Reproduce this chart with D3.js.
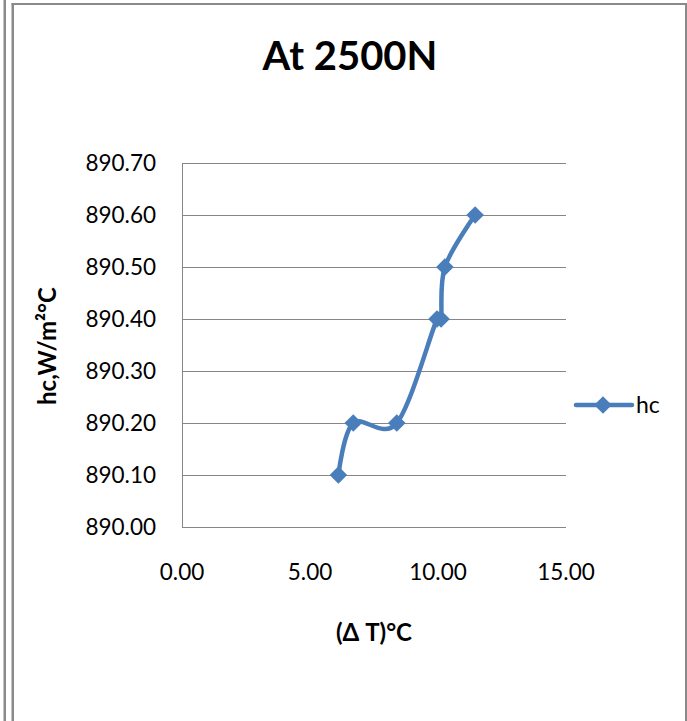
<!DOCTYPE html>
<html>
<head>
<meta charset="utf-8">
<script src="https://cdn.jsdelivr.net/npm/d3@7"></script>
<style>
  body { margin: 0; background: #fff; }
  svg { display: block; font-family: Lato, "Open Sans", sans-serif; }
</style>
</head>
<body>
<div id="chart"></div>
<script>
const deltaT = [6.11, 6.69, 8.39, 9.96, 10.12, 10.27, 11.45];
const hc = [890.10, 890.20, 890.20, 890.40, 890.40, 890.50, 890.60];
const yTicks = [890.00, 890.10, 890.20, 890.30, 890.40, 890.50, 890.60, 890.70];
const xTicks = [0, 5, 10, 15];
const seriesName = "hc";

const W = 687, H = 721;
const blue = "#4a7ebb", grid = "#868686";

const svg = d3.select("#chart").append("svg")
  .attr("width", W).attr("height", H);

// page frame (double line on the left)
svg.append("rect").attr("x", 3.5).attr("y", 0).attr("width", 2.5).attr("height", H).attr("fill", "#8a8a8a");
svg.append("rect").attr("x", 11.5).attr("y", 3).attr("width", 2.5).attr("height", H).attr("fill", "#8a8a8a");
svg.append("rect").attr("x", 11.5).attr("y", 3).attr("width", W - 11.5).attr("height", 2).attr("fill", "#8a8a8a");
svg.append("rect").attr("x", 685).attr("y", 3).attr("width", 2).attr("height", H).attr("fill", "#8a8a8a");

const x = d3.scaleLinear().domain([0, 15]).range([182, 566]);
const y = d3.scaleLinear().domain([890.0, 890.7]).range([527, 163]);

// gridlines
svg.append("g").selectAll("line")
  .data(yTicks)
  .enter().append("line")
  .attr("x1", 182).attr("x2", 566)
  .attr("y1", d => Math.round(y(d)) + 0.5).attr("y2", d => Math.round(y(d)) + 0.5)
  .attr("stroke", grid).attr("stroke-width", 1);

svg.append("line")
  .attr("x1", 182.5).attr("x2", 182.5).attr("y1", 163).attr("y2", 527.5)
  .attr("stroke", grid);

// tick labels
svg.append("g").selectAll("text")
  .data(yTicks)
  .enter().append("text")
  .attr("x", 156).attr("y", d => y(d) + 8)
  .attr("text-anchor", "end")
  .attr("font-size", 22.5)
  .text(d => d.toFixed(2));

svg.append("g").selectAll("text")
  .data(xTicks)
  .enter().append("text")
  .attr("x", d => x(d)).attr("y", 580)
  .attr("text-anchor", "middle")
  .attr("font-size", 22.5)
  .text(d => d.toFixed(2));

// titles
svg.append("text")
  .attr("x", 350).attr("y", 70)
  .attr("text-anchor", "middle")
  .attr("font-size", 40).attr("font-weight", "bold")
  .text("At 2500N");

svg.append("text")
  .attr("x", 374).attr("y", 641)
  .attr("text-anchor", "middle")
  .attr("font-size", 24).attr("font-weight", "bold")
  .text("(Δ T)°C");

svg.append("text")
  .attr("transform", "translate(56,346) rotate(-90)")
  .attr("text-anchor", "middle")
  .attr("font-size", 24).attr("font-weight", "bold")
  .text("hc,W/m²°C");

// series
const pts = deltaT.map((d, i) => [d, hc[i]]);
const line = d3.line()
  .x(d => x(d[0])).y(d => y(d[1]))
  .curve(d3.curveCardinal.tension(0));

svg.append("path")
  .datum(pts)
  .attr("d", line)
  .attr("fill", "none")
  .attr("stroke", blue)
  .attr("stroke-width", 4.5)
  .attr("stroke-linejoin", "round");

const diamond = d3.symbol().type(d3.symbolSquare).size(155);
svg.append("g").selectAll("path")
  .data(pts)
  .enter().append("path")
  .attr("d", diamond)
  .attr("transform", d => `translate(${x(d[0])},${y(d[1])}) rotate(45)`)
  .attr("fill", blue);

// legend
const lg = svg.append("g").attr("transform", "translate(576,405)");
lg.append("line").attr("x1", 0).attr("x2", 56).attr("y1", 0).attr("y2", 0)
  .attr("stroke", blue).attr("stroke-width", 4.5).attr("stroke-linecap", "round");
lg.append("path").attr("d", diamond).attr("transform", "translate(27,0) rotate(45)").attr("fill", blue);
lg.append("text").attr("x", 60).attr("y", 8).attr("font-size", 23).text(seriesName);
</script>
</body>
</html>
